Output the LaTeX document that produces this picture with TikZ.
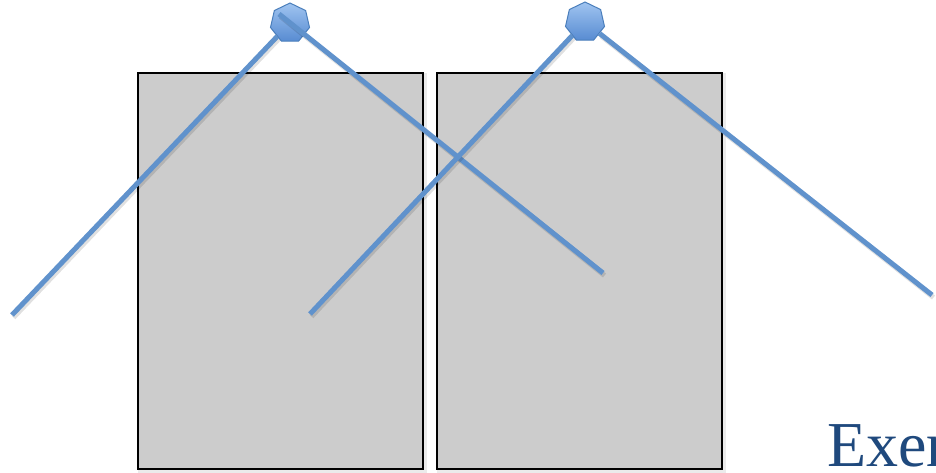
\documentclass[tikz,border=0pt]{standalone}
\usepackage{fontspec}
\newfontfamily\slidefont{Liberation Serif}
\usetikzlibrary{shapes.geometric,positioning}
\definecolor{raycol}{RGB}{96,146,204}
\definecolor{camedge}{RGB}{74,126,187}
\definecolor{camtop}{RGB}{160,196,240}
\definecolor{cambot}{RGB}{88,140,210}
\definecolor{titlecol}{RGB}{31,73,125}
\tikzset{
    image/.style={
    rectangle,draw=black,line width=2pt,fill=black!20,minimum width=285pt,minimum height=396pt,inner sep=0pt,
    preaction={draw=black,opacity=0.08,line width=4pt,transform canvas={shift={(1.5pt,-2pt)}}}
    },
    camera/.style={
    regular polygon,regular polygon sides=7,draw=camedge,line width=1pt,top color=camtop,bottom color=cambot,minimum size=40pt,inner sep=0pt
    },
    ray/.style={
    draw=raycol,line width=5pt,
    preaction={draw=black,opacity=0.12,line width=5pt,transform canvas={shift={(1.5pt,-2.5pt)}}}
    },
}
\begin{document}
\begin{tikzpicture}[x=1pt,y=-1pt]
   \useasboundingbox (0,0) rectangle (936,472);
   % the two image planes
   \node[image] (imgL) at (280.5,271) {};
   \node[image] (imgR) at (579.5,271) {};
   % camera centres
   \node[camera] (camL) at (290,23) {};
   \node[camera] (camR) at (585,22) {};
   % free ends of the rays
   \coordinate (a) at (12,315);
   \coordinate (b0) at (279,14);
   \coordinate (b) at (603,273);
   \coordinate (c) at (310,314);
   \coordinate (d) at (932,295);
   \draw[ray] (a) -- (camL);
   \draw[ray] (b0) -- (b);
   \draw[ray] (c) -- (camR);
   \draw[ray] (camR) -- (d);
   \node[anchor=base west,text=titlecol,inner sep=0pt] (title) at (827,466) {\slidefont\fontsize{64}{76}\selectfont Exer};
\end{tikzpicture}
\end{document}
